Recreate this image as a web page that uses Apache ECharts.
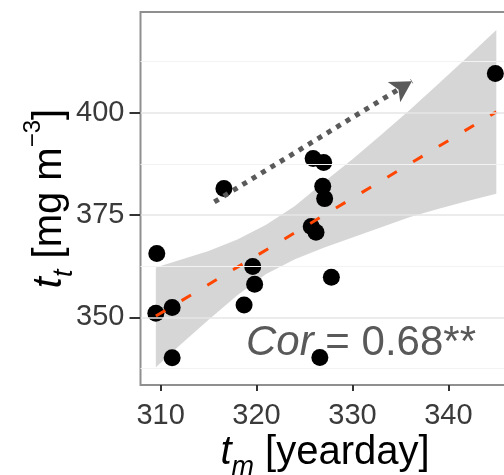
<!DOCTYPE html>
<html>
<head>
<meta charset="utf-8">
<script src="https://cdn.jsdelivr.net/npm/echarts@6/dist/echarts.min.js"></script>
<style>
  html, body { margin: 0; padding: 0; background: #ffffff; }
  #chart { width: 504px; height: 475px; }
</style>
</head>
<body>
<div id="chart"></div>
<script>
// Axis ticks and horizontal grid levels
const xTicks = [310, 320, 330, 340];
const yTicks = [350, 375, 400];
const yMinorGrid = [337.5, 362.5, 387.5, 412.5];

// Observations: timing t_m (yearday) against t_t (mg m^-3)
const tm = [309.6, 309.5, 311.2, 311.2, 316.6, 318.7, 319.6, 319.8,
            325.9, 327.0, 326.9, 327.1, 325.7, 326.2, 327.8, 326.6, 344.9];
const ft = [365.6, 351.0, 352.4, 340.1, 381.5, 353.0, 362.4, 358.1,
            388.8, 387.8, 382.0, 379.0, 372.2, 370.8, 359.8, 340.2, 409.6];

// Linear fit (end points) and its confidence band
const fitX = [309.5, 345.0];
const fitY = [350.3, 400.2];
const bandX     = [309.5, 312.0, 315.0, 318.0, 321.0, 324.0, 327.0, 330.0, 333.0, 336.0, 339.0, 342.0, 345.0];
const bandUpper = [362.2, 364.0, 366.2, 369.0, 372.6, 377.2, 383.0, 388.6, 394.6, 400.7, 407.1, 413.6, 420.2];
const bandLower = [337.8, 343.2, 349.4, 355.4, 360.6, 364.2, 367.0, 369.5, 372.0, 374.5, 376.5, 378.4, 380.2];

// Trend arrow (start, tip) and correlation label
const trendFrom = [315.6, 378.2];
const trendTo = [336.2, 407.7];
const corValue = '0.68**';

const FONT = '"Liberation Sans", Arial, Helvetica, sans-serif';
const chart = echarts.init(document.getElementById('chart'), null, { renderer: 'canvas' });

const titleRich = {
  i:   { fontFamily: FONT, fontSize: 40, fontStyle: 'italic', lineHeight: 56, verticalAlign: 'middle', color: '#000' },
  n:   { fontFamily: FONT, fontSize: 40, lineHeight: 56, verticalAlign: 'middle', color: '#000' },
  sub: { fontFamily: FONT, fontSize: 27, fontStyle: 'italic', lineHeight: 26, verticalAlign: 'bottom', color: '#000' },
  sup: { fontFamily: FONT, fontSize: 24, lineHeight: 4, verticalAlign: 'top', color: '#000' }
};

const gridLines = yTicks.map(v => ({ yAxis: v, lineStyle: { color: '#e6e6e6', width: 1.5, type: 'solid' } }))
  .concat(yMinorGrid.map(v => ({ yAxis: v, lineStyle: { color: '#f3f3f3', width: 1, type: 'solid' } })));

const option = {
  animation: false,
  backgroundColor: '#ffffff',
  grid: {
    left: 140.5, top: 12, width: 375, height: 373,
    show: true, borderColor: '#8f8f8f', borderWidth: 2, backgroundColor: 'transparent',
    outerBoundsMode: 'none', containLabel: false
  },
  xAxis: {
    type: 'value', min: 307.9, max: 347,
    axisLine: { show: false },
    axisTick: { show: true, length: 6, customValues: xTicks, lineStyle: { color: '#333', width: 2 } },
    axisLabel: { customValues: xTicks, color: '#3a3a3a', fontSize: 29, fontFamily: FONT, margin: 16 },
    splitLine: { show: false },
    name: '{i|t}{sub|m}{n| [yearday]}',
    nameLocation: 'middle', nameGap: 40, nameMoveOverlap: false,
    nameTextStyle: { fontFamily: FONT, fontSize: 40, lineHeight: 56, color: '#000', padding: [0, 6, 0, 0], rich: titleRich }
  },
  yAxis: {
    type: 'value', min: 333.46, max: 424.6,
    axisLine: { show: false },
    axisTick: { show: true, length: 11, customValues: yTicks, lineStyle: { color: '#333', width: 2 } },
    axisLabel: { customValues: yTicks, color: '#3a3a3a', fontSize: 29, fontFamily: FONT, margin: 16 },
    splitLine: { show: false },
    name: '{i|t}{sub|t}{n| [mg m}{sup|\u22123}{n|]}',
    nameLocation: 'middle', nameRotate: 90, nameGap: 63, nameMoveOverlap: false,
    nameTextStyle: { fontFamily: FONT, fontSize: 40, lineHeight: 56, color: '#000', rich: titleRich }
  },
  series: [
    {
      name: 'grid', type: 'line', data: [], z: 1, silent: true,
      markLine: { silent: true, symbol: ['none', 'none'], label: { show: false }, data: gridLines, animation: false }
    },
    {
      name: 'band', type: 'custom', z: 2, silent: true,
      data: [[bandX[0], bandLower[0]]],
      renderItem: function (params, api) {
        const pts = [];
        for (let i = 0; i < bandX.length; i++) pts.push(api.coord([bandX[i], bandUpper[i]]));
        for (let i = bandX.length - 1; i >= 0; i--) pts.push(api.coord([bandX[i], bandLower[i]]));
        return { type: 'polygon', shape: { points: pts }, style: { fill: 'rgba(153,153,153,0.4)', stroke: 'none' } };
      }
    },
    {
      name: 'obs', type: 'scatter', z: 3, silent: true,
      symbol: 'circle', symbolSize: 17,
      itemStyle: { color: '#000000', opacity: 1 },
      data: tm.map((x, i) => [x, ft[i]])
    },
    {
      name: 'fit', type: 'line', z: 4, silent: true, symbol: 'none',
      lineStyle: { color: '#ff4500', width: 3, type: [11, 19] },
      data: fitX.map((x, i) => [x, fitY[i]])
    },
    {
      name: 'trend', type: 'line', data: [], z: 5, silent: true,
      markLine: {
        silent: true, symbol: ['none', 'arrow'], symbolSize: [18, 21],
        label: { show: false },
        lineStyle: { color: '#5a5a5a', width: 5, type: [5, 6], cap: 'butt' },
        itemStyle: { color: '#5a5a5a' },
        data: [[{ coord: trendFrom }, { coord: trendTo }]],
        animation: false
      }
    }
  ],
  graphic: [
    {
      type: 'text', x: 246, y: 343, z: 1, silent: true,
      style: {
        text: '{i|Cor} = ' + corValue,
        fontFamily: FONT, fontSize: 42, fill: '#595959', verticalAlign: 'middle', align: 'left',
        rich: { i: { fontFamily: FONT, fontSize: 42, fontStyle: 'italic', fill: '#595959' } }
      }
    }
  ]
};

chart.setOption(option);
</script>
</body>
</html>
